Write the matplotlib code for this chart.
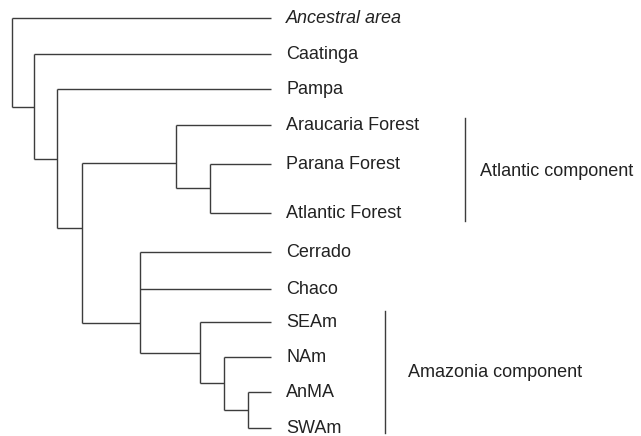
import matplotlib.pyplot as plt

plt.rcParams['font.family'] = ['Liberation Sans', 'DejaVu Sans']

# leaves, top to bottom, with their vertical position (pixel-like units)
leaves = ["Ancestral area", "Caatinga", "Pampa", "Araucaria Forest",
          "Parana Forest", "Atlantic Forest", "Cerrado", "Chaco",
          "SEAm", "NAm", "AnMA", "SWAm"]
leaf_y = [18.3, 54.3, 89.3, 125.3, 164, 213, 252.3, 289.3,
          321.7, 356.7, 392, 428.3]
leaf_x = 271

# internal nodes: name -> (children, depth, join position or None = midpoint)
nodes = {
    "anws": (["AnMA", "SWAm"], 247.7, None),
    "nam": (["NAm", "anws"], 223.7, None),
    "amaz": (["SEAm", "nam"], 200, None),
    "cer": (["Cerrado", "Chaco", "amaz"], 140, 322.7),
    "par": (["Parana Forest", "Atlantic Forest"], 210, None),
    "atl": (["Araucaria Forest", "par"], 176, 162.7),
    "n4": (["atl", "cer"], 81.7, 228.3),
    "n3": (["Pampa", "n4"], 57.3, None),
    "n2": (["Caatinga", "n3"], 34.3, None),
    "root": (["Ancestral area", "n2"], 11.7, None),
}

# component brackets: label, top, bottom, line x, label x, label baseline
groups = [("Atlantic component", 118, 220.7, 465, 480, 176),
          ("Amazonia component", 310.7, 433.3, 385, 408, 376.7)]

lc = '#3c3c3c'
tc = '#222222'

fig = plt.figure(figsize=(6.41, 4.36), dpi=100)
ax = fig.add_axes([0, 0, 1, 1])
ax.set_xlim(0, 641)
ax.set_ylim(436, 0)
ax.axis('off')

pos = {n: (leaf_x, y) for n, y in zip(leaves, leaf_y)}


def place(name):
    if name in pos:
        return pos[name]
    kids, x, yj = nodes[name]
    ys = [place(k)[1] for k in kids]
    if yj is None:
        yj = (min(ys) + max(ys)) / 2
    pos[name] = (x, yj)
    return pos[name]


for name in nodes:
    place(name)

for name, (kids, x, _) in nodes.items():
    ys = [pos[k][1] for k in kids]
    ax.plot([x, x], [min(ys), max(ys)], color=lc, lw=1.0,
            solid_capstyle='butt')
    for k in kids:
        ax.plot([x, pos[k][0]], [pos[k][1], pos[k][1]], color=lc, lw=1.0,
                solid_capstyle='butt')

# labels sit with their baseline a little below the branch
for n, y in zip(leaves, leaf_y):
    ax.text(leaf_x + 15, y + 4.8, n, fontsize=13, color=tc, va='baseline',
            ha='left', style='italic' if n == "Ancestral area" else 'normal')

for label, y0, y1, lx, tx, ty in groups:
    ax.plot([lx, lx], [y0, y1], color=lc, lw=1.0)
    ax.text(tx, ty, label, fontsize=13, color=tc, va='baseline', ha='left')

fig.savefig('out.png', dpi=100)
